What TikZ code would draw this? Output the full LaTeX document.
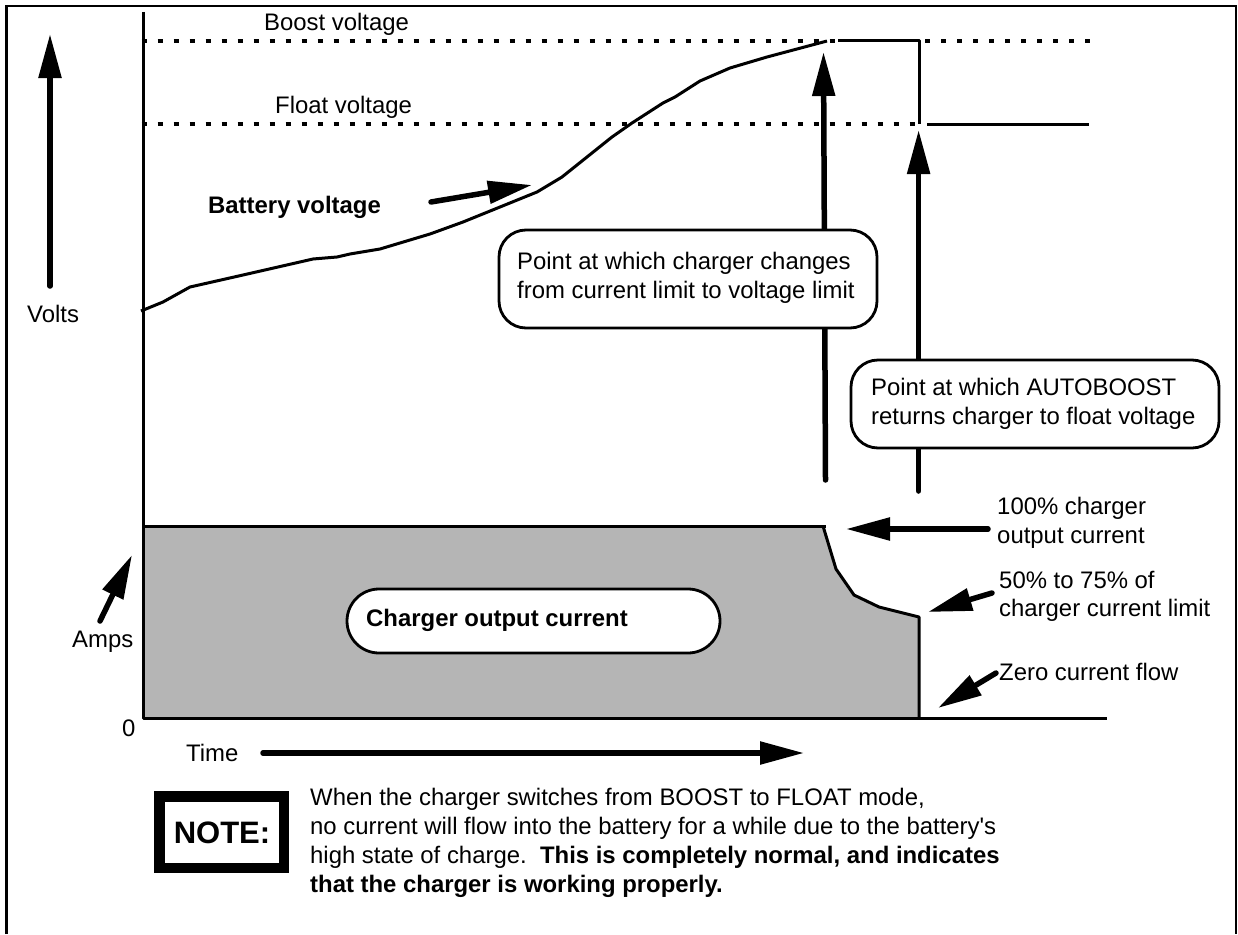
\documentclass[tikz,border=0pt]{standalone}
\usepackage{fontspec}
\setmainfont{Liberation Sans}[Ligatures=TeXOff]
\usetikzlibrary{arrows.meta}
\definecolor{areagray}{gray}{0.71}
\begin{document}
\begin{tikzpicture}[x=1pt,y=-1pt,
  lbl/.style={inner sep=0pt,anchor=west,font=\fontsize{23.9}{30}\selectfont},
  blbl/.style={lbl,font=\fontsize{23.9}{30}\selectfont\bfseries},
  curve/.style={line width=3pt,line join=round},
  dotline/.style={line width=3.2pt,dash pattern=on 5pt off 11pt},
  bigarrow/.style={line width=5.5pt,line cap=round,-{Triangle[length=44pt,width=22pt]}},
  callout/.style={draw,line width=2.8pt,fill=white,rounded corners=27pt,inner sep=0pt}]
\useasboundingbox (0,0) rectangle (1238,934);
\draw[line width=2.8pt] (6.5,934) -- (6.5,6) -- (1236,6) -- (1236,934);
% area
\fill[areagray] (143,526) -- (823,526) -- (836,569) -- (854,595) -- (879,607) -- (919,617) -- (919,718) -- (143,718) -- cycle;
\draw[curve] (143,526) -- (826,526);
\draw[curve] (823,526) -- (836,569) -- (854,595) -- (879,607) -- (919,617) -- (919,718);
\draw[curve] (143,12) -- (143,718) -- (1107,718);
% dotted
\draw[dotline] (141.5,41) -- (836,41);
\draw[curve] (838,41) -- (919,41) -- (919,124);
\draw[dotline] (925,41) -- (1090,41);
\draw[dotline] (141.5,124) -- (919,124);
\draw[curve] (927,124) -- (1089,124);
% voltage curve
\draw[curve] (141,311) -- (163,302) -- (190,287) -- (243,275) -- (313,259) -- (337,257) -- (350,254) -- (380,249) -- (430,234) -- (463,222) -- (500,207) -- (537,192) -- (562,177) -- (592,153) -- (612,137) -- (632,123) -- (663,103) -- (675,97) -- (700,81) -- (730,68) -- (767,57) -- (827,41);
% arrow end points
\coordinate (voltsTail) at (50,286); \coordinate (voltsTip) at (50,34);
\coordinate (batTail) at (431,202); \coordinate (batTip) at (532,185);
\coordinate (aTail) at (825.5,480); \coordinate (aTip) at (823.5,52);
\coordinate (bTail) at (918.6,491); \coordinate (bTip) at (918.6,130);
\coordinate (cTail) at (988,529); \coordinate (cTip) at (846,529);
\coordinate (dTail) at (992,593); \coordinate (dTip) at (928,612);
\coordinate (eTail) at (996,673); \coordinate (eTip) at (938,708);
\coordinate (ampsTail) at (100,621); \coordinate (ampsTip) at (132,555);
\coordinate (timeTail) at (263,753); \coordinate (timeTip) at (804,753);
\draw[bigarrow] (voltsTail) -- (voltsTip);
\draw[bigarrow] (batTail) -- (batTip);
\draw[bigarrow] (aTail) -- (aTip);
\draw[bigarrow] (bTail) -- (bTip);
\draw[bigarrow] (cTail) -- (cTip);
\draw[bigarrow] (dTail) -- (dTip);
\draw[bigarrow] (eTail) -- (eTip);
\draw[bigarrow] (ampsTail) -- (ampsTip);
\draw[bigarrow] (timeTail) -- (timeTip);
% callouts
\draw[callout] (499,230) rectangle (877,328);
\node[lbl] (c1a) at (517,263) {Point at which charger changes};
\node[lbl] (c1b) at (517,292) {from current limit to voltage limit};
\draw[callout] (851,360) rectangle (1219,448);
\node[lbl] (c2a) at (871,387) {Point at which AUTOBOOST};
\node[lbl] (c2b) at (871,418) {returns charger to float voltage};
\draw[callout,rounded corners=32pt] (347,589) rectangle (720,653);
\node[blbl] (cur) at (366,620) {Charger output current};
% labels
\node[lbl] (boost) at (264,24) {Boost voltage};
\node[lbl] (float) at (275,107) {Float voltage};
\node[lbl] (volts) at (27,314) {Volts};
\node[blbl] (bat) at (208,207) {Battery voltage};
\node[lbl] (amps) at (72,642) {Amps};
\node[lbl] (zero) at (122,728) {0};
\node[lbl] (time) at (186,753) {Time};
\node[lbl] (p1) at (997,508) {100\% charger};
\node[lbl] (p2) at (997,538) {output current};
\node[lbl] (p3) at (999,580) {50\% to 75\% of};
\node[lbl] (p4) at (999,610) {charger current limit};
\node[lbl] (p5) at (999,672) {Zero current flow};
% note
\draw[line width=10.5pt] (159.5,796.5) rectangle (284,868);
\node[blbl,anchor=center,font=\fontsize{31}{32}\selectfont\bfseries] (note) at (222,833) {NOTE:};
\node[lbl] (n1) at (310,799.5) {When the charger switches from BOOST to FLOAT mode,};
\node[lbl] (n2) at (310,828.5) {no current will flow into the battery for a while due to the battery's};
\node[lbl] (n3) at (310,857.5) {high state of charge.\ \ \textbf{This is completely normal, and indicates}};
\node[blbl] (n4) at (310,886.5) {that the charger is working properly.};
\end{tikzpicture}
\end{document}
